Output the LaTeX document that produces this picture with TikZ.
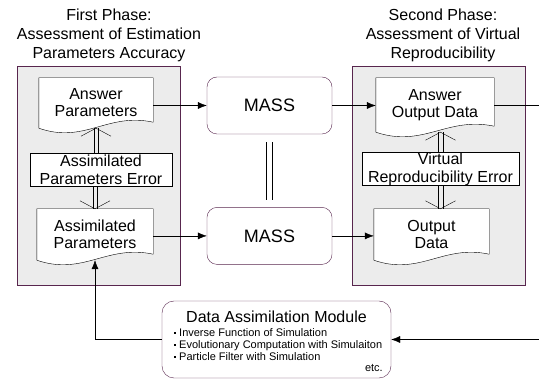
\documentclass[tikz,border=0pt]{standalone}
\usepackage{fontspec}
\setmainfont{Liberation Sans}
\usetikzlibrary{arrows.meta,calc,positioning}
\definecolor{phasegray}{RGB}{236,236,236}
\definecolor{plum}{RGB}{88,38,78}

\pgfdeclarelayer{back}
\pgfdeclarelayer{paper}
\pgfsetlayers{back,paper,main}

% sheet of paper with a wavy lower edge, drawn behind a doc node
\newcommand{\docoutline}[1]{%
  \filldraw[docline] (#1.south west) -- (#1.north west) -- (#1.north east)
    -- ($(#1.south east)+(0,-6)$)
    .. controls ($(#1.south west)!0.6!(#1.south east)+(0,-16)$)
    and ($(#1.south west)!0.4!(#1.south east)+(0,16)$) .. (#1.south west) -- cycle;}
% two parallel vertical strokes between #1 and #2, #3 apart
\newcommand{\twinline}[3]{%
  \draw ($#1+(-#3/2,0)$) -- ($#2+(-#3/2,0)$);
  \draw ($#1+(#3/2,0)$) -- ($#2+(#3/2,0)$);}
% open head of a double arrow, apex at #1, wings #2 back along y
\newcommand{\twinhead}[2]{%
  \draw ($#1+(-15,#2)$) -- #1 -- ($#1+(15,#2)$);}
\newcommand{\sqdot}{\rule[2.5pt]{2pt}{2pt}\hspace{3pt}}

\begin{document}
\begin{tikzpicture}[
    x=1pt, y=-1pt,
    line width=0.8pt,
    phase/.style={draw=plum, fill=phasegray, line width=0.9pt},
    phasetitle/.style={align=center, inner sep=0pt, anchor=north, font=\fontsize{16}{19}\selectfont},
    doc/.style={align=center, inner sep=0pt, minimum height=50pt, font=\fontsize{16}{17}\selectfont},
    docline/.style={draw=black, fill=white},
    errbox/.style={draw, fill=white, align=center, inner sep=0pt, minimum height=33pt, font=\fontsize{16}{18}\selectfont},
    mass/.style={draw=plum, fill=white, rounded corners=10pt, minimum width=125pt, minimum height=57pt, font=\fontsize{18}{20}\selectfont},
    module/.style={draw=plum, fill=white, rounded corners=12pt, minimum width=229pt, minimum height=77pt},
    arrow/.style={-{Latex[length=9pt,width=7pt]}},
]
    \useasboundingbox (0,0) rectangle (539,379);

    % phase frames
    \begin{pgfonlayer}{back}
        \node[phase, minimum width=163pt, minimum height=219pt] (p1) at (98.5,175.5) {};
        \node[phase, minimum width=173pt, minimum height=219pt] (p2) at (438.5,175.5) {};
    \end{pgfonlayer}
    \node[phasetitle] (t1) at (109,9) {First Phase:\\Assessment of Estimation\\Parameters Accuracy};
    \node[phasetitle] (t2) at (443,9) {Second Phase:\\Assessment of Virtual\\Reproducibility};

    % documents
    \node[doc, minimum width=114pt] (ap) at (96,103) {Answer\\Parameters};
    \node[doc, minimum width=116pt, minimum height=51pt] (asp) at (95,234.5) {Assimilated\\Parameters};
    \node[doc, minimum width=118pt, minimum height=54pt] (aod) at (435,105) {Answer\\Output Data};
    \node[doc, minimum width=115pt, minimum height=51pt] (od) at (431.5,234.5) {Output\\Data};
    \begin{pgfonlayer}{paper}
        \docoutline{ap}
        \docoutline{asp}
        \docoutline{aod}
        \docoutline{od}
    \end{pgfonlayer}

    % errors
    \node[errbox, minimum width=142pt] (ape) at (101,169.5) {Assimilated\\Parameters Error};
    \node[errbox, minimum width=157pt] (vre) at (440.5,169) {Virtual\\Reproducibility Error};

    % simulators
    \node[mass] (m1) at (269.5,105.5) {MASS};
    \node[mass, below=73pt of m1] (m2) {MASS};

    % assimilation module
    \node[module] (dam) at (276.5,339.5) {};
    \node[inner sep=0pt, font=\fontsize{16}{18}\selectfont, below=10pt of dam.north] (damtitle) {Data Assimilation Module};
    \node[anchor=north west, align=left, inner sep=0pt, font=\fontsize{11}{12}\selectfont] (damlist) at (174,328)
        {\sqdot Inverse Function of Simulation\\\sqdot Evolutionary Computation with Simulaiton\\\sqdot Particle Filter with Simulation};
    \node[anchor=base east, inner sep=0pt, font=\fontsize{11}{12}\selectfont] (dametc) at (383,372) {etc.};

    \coordinate (outR) at (539,105.5);
    \coordinate (inR) at (539,339.5);

    % arrows
    \draw[arrow] (ap.east |- m1) -- (m1);
    \draw[arrow] (m1) -- (m1 -| aod.west);
    \draw (aod.east |- m1) -- (outR);
    \draw[arrow] (asp.east |- m2) -- (m2);
    \draw[arrow] (m2) -- (m2 -| od.west);
    \draw[arrow] (inR) -- (dam);
    \draw[arrow] (dam.west) -| (asp.south);

    % same simulator
    \coordinate (mtop) at ($(m1.south)+(0,8)$);
    \coordinate (mbot) at ($(m2.north)+(0,-7)$);
    \twinline{(mtop)}{(mbot)}{6}

    % error comparisons
    \twinline{(ape.north -| ap.south)}{(ap.south)}{4.5}
    \twinhead{(ap.south)}{8}
    \twinline{(ape.south -| asp.north)}{(asp.north)}{4.5}
    \twinhead{(asp.north)}{-8}
    \twinline{(vre.north)}{(vre.north |- aod.south)}{4.5}
    \twinhead{(vre.north |- aod.south)}{8}
    \twinline{(vre.south)}{(vre.south |- od.north)}{4.5}
    \twinhead{(vre.south |- od.north)}{-8}

\end{tikzpicture}
\end{document}
